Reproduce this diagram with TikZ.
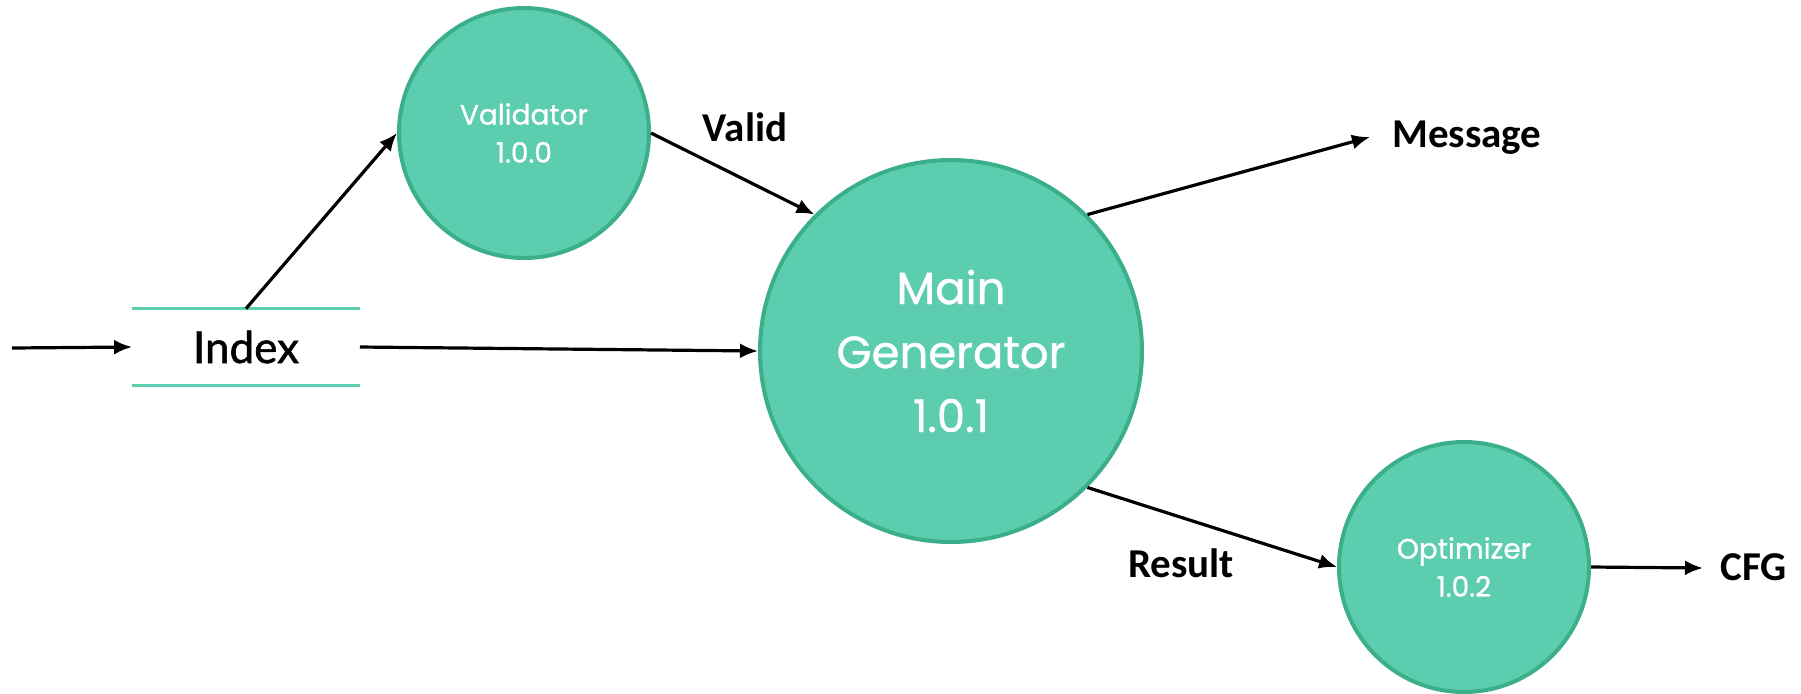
\documentclass[tikz,border=0pt]{standalone}
\usepackage{fontspec}
\setmainfont{Carlito}
\newfontfamily\procfont{Poppins}[FakeBold=0.9]
\newfontfamily\storefont{Lato}[FakeBold=1.2]
\usetikzlibrary{arrows.meta}

\definecolor{procfill}{HTML}{5CCDAE}
\definecolor{procline}{HTML}{3AAF8A}

\tikzset{
  proc/.style={circle, draw=procline, fill=procfill, line width=2pt,
    text=white, align=center, inner sep=0pt, font=\procfont},
  flow/.style={-{Latex[length=9pt,width=7.5pt]}, line width=1.6pt},
  lbl/.style={inner sep=0pt, font=\bfseries\fontsize{20.5}{24}\selectfont}
}

\begin{document}
\begin{tikzpicture}[x=0.5pt, y=-0.5pt]
  \useasboundingbox (0,0) rectangle (1801,693);
  \node[proc, minimum size=125pt, font=\procfont\fontsize{14}{19}\selectfont] (val) at (524,133) {Validator\\1.0.0};
  \node[proc, minimum size=191pt, font=\procfont\fontsize{22.5}{32}\selectfont] (main) at (951,351) {Main\\Generator\\1.0.1};
  \node[proc, minimum size=125pt, font=\procfont\fontsize{14}{19}\selectfont] (opt) at (1464,567) {Optimizer\\1.0.2};
  \node[minimum width=113.5pt, minimum height=38pt, inner sep=0pt,
    font=\storefont\fontsize{22}{26}\selectfont] (index) at (246,347) {Index};
  \draw[procfill, line width=1.6pt] (index.north west) -- (index.north east);
  \draw[procfill, line width=1.6pt] (index.south west) -- (index.south east);
  % free ends
  \coordinate (src) at (12,348);
  \coordinate (msgend) at (1370,137);
  \coordinate (cfgend) at (1703,568);
  % flow labels
  \node[lbl] (valid) at (745,127) {Valid};
  \node[lbl] (result) at (1181,563) {Result};
  \node[lbl, anchor=west] (msg) at (1392,138) {Message};
  \node[lbl, anchor=west] (cfg) at (1720,567) {CFG};
  \path[flow]
(src) edge (index.west)
(index.north) edge (val.west)
(index.east) edge (main.west)
(val.east) edge (main.135)
(main.45) edge (msgend)
(main.-45) edge (opt.west)
(opt.east) edge (cfgend)
  ;
\end{tikzpicture}
\end{document}
